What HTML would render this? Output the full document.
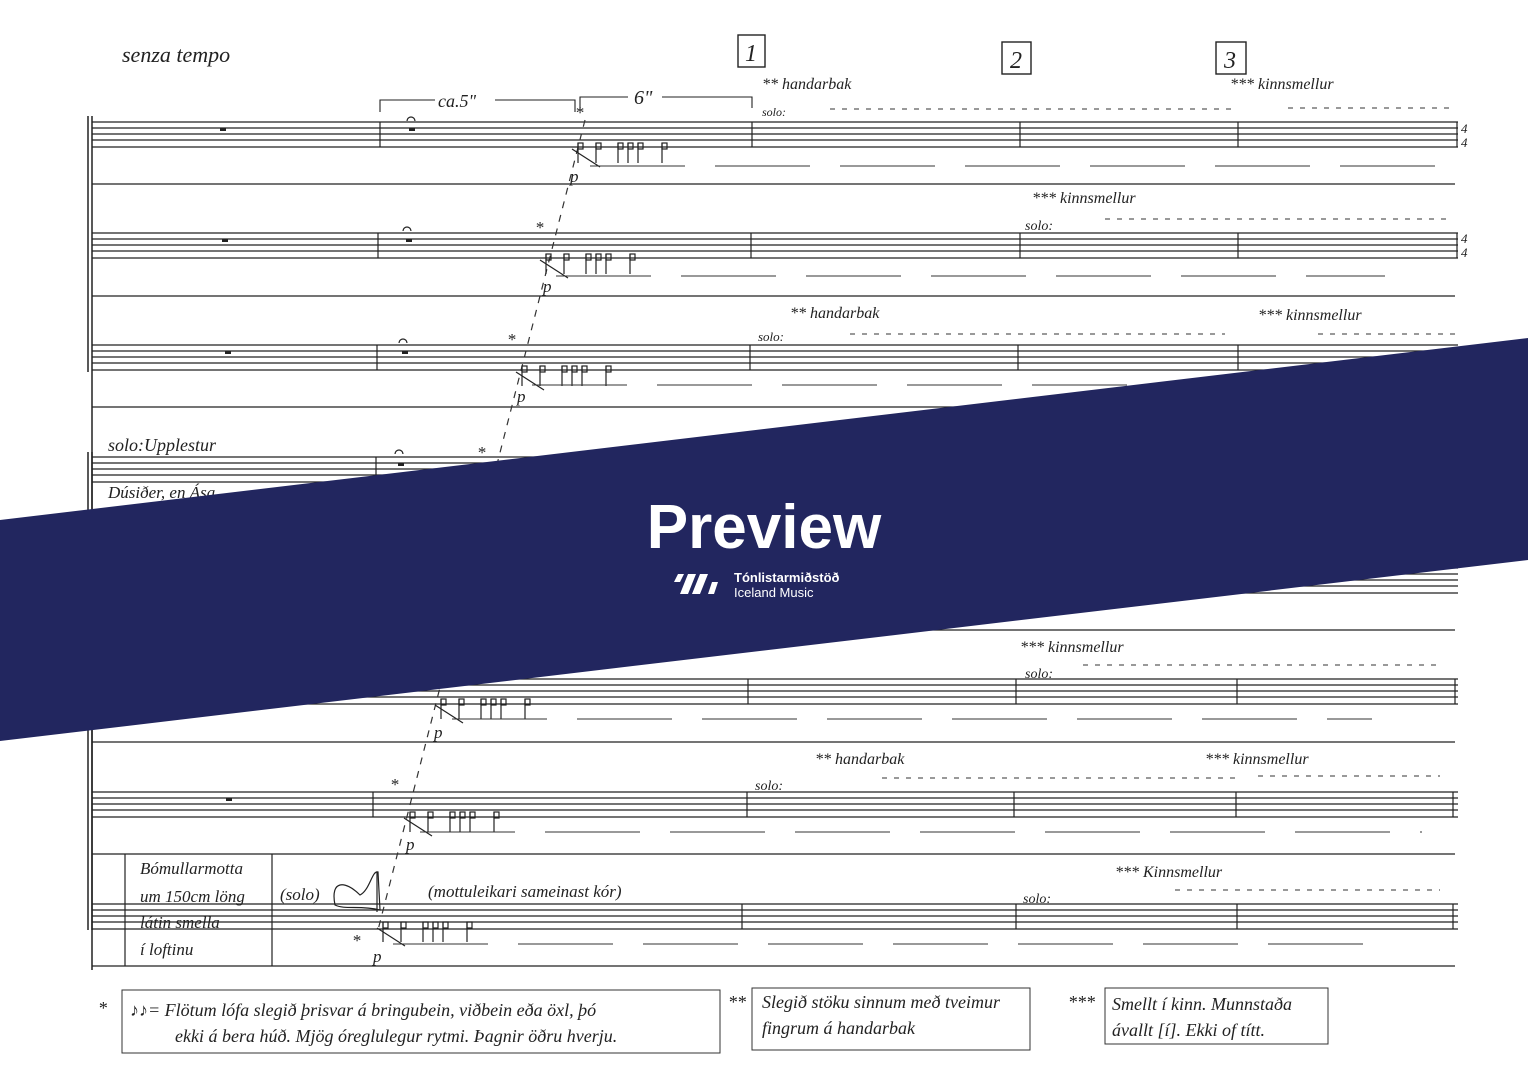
<!DOCTYPE html>
<html><head><meta charset="utf-8"><style>
html,body{margin:0;padding:0;background:#fff;}
svg{display:block}
text{font-family:"Liberation Serif",serif;font-style:italic;fill:#222}
</style></head><body>
<svg width="1528" height="1080" viewBox="0 0 1528 1080" xmlns="http://www.w3.org/2000/svg">
<defs>
<g id="st" stroke="#222" stroke-width="1.3">
<line x1="92" y1="0" x2="1458" y2="0"/><line x1="92" y1="6" x2="1458" y2="6"/><line x1="92" y1="12" x2="1458" y2="12"/><line x1="92" y1="18" x2="1458" y2="18"/><line x1="92" y1="25" x2="1458" y2="25"/>
</g>
<marker id="ah" markerWidth="8" markerHeight="8" refX="7" refY="4" orient="auto"><path d="M0,0 L7,4 L0,8" fill="none" stroke="#333" stroke-width="1"/></marker>
<g id="notes" stroke="#222" stroke-width="1.2" fill="none">
<rect x="0" y="0" width="5" height="6"/><line x1="0" y1="0" x2="0" y2="20"/>
<rect x="18" y="0" width="5" height="6"/><line x1="18" y1="0" x2="18" y2="20"/>
<rect x="40" y="0" width="5" height="6"/><line x1="40" y1="0" x2="40" y2="20"/>
<rect x="50" y="0" width="5" height="6"/><line x1="50" y1="0" x2="50" y2="20"/>
<rect x="60" y="0" width="5" height="6"/><line x1="60" y1="0" x2="60" y2="20"/>
<rect x="84" y="0" width="5" height="6"/><line x1="84" y1="0" x2="84" y2="20"/>
<line x1="-6" y1="6" x2="22" y2="24"/>
</g>
</defs>

<!-- brace lines -->
<g stroke="#222" stroke-width="1.5">
<line x1="88" y1="116" x2="88" y2="372"/><line x1="92" y1="116" x2="92" y2="372"/>
<line x1="88" y1="452" x2="88" y2="930"/><line x1="92" y1="452" x2="92" y2="930"/>
<line x1="92" y1="372" x2="92" y2="970"/>
</g>

<!-- staves -->
<use href="#st" y="122"/><use href="#st" y="233"/><use href="#st" y="345"/><use href="#st" y="457"/>
<use href="#st" y="568"/><use href="#st" y="679"/><use href="#st" y="792"/><use href="#st" y="904"/>

<!-- separators -->
<g stroke="#222" stroke-width="1.2">
<line x1="92" y1="184" x2="1455" y2="184"/><line x1="92" y1="296" x2="1455" y2="296"/>
<line x1="92" y1="407" x2="1455" y2="407"/><line x1="92" y1="519" x2="1455" y2="519"/>
<line x1="92" y1="630" x2="1455" y2="630"/><line x1="92" y1="742" x2="1455" y2="742"/>
<line x1="92" y1="854" x2="1455" y2="854"/><line x1="92" y1="966" x2="1455" y2="966"/>
</g>

<!-- barlines -->
<g stroke="#222" stroke-width="1.2">
<line x1="380" y1="122" x2="380" y2="147"/><line x1="752" y1="122" x2="752" y2="147"/><line x1="1020" y1="122" x2="1020" y2="147"/><line x1="1238" y1="122" x2="1238" y2="147"/><line x1="1457" y1="122" x2="1457" y2="147"/>
<line x1="378" y1="233" x2="378" y2="258"/><line x1="751" y1="233" x2="751" y2="258"/><line x1="1020" y1="233" x2="1020" y2="258"/><line x1="1238" y1="233" x2="1238" y2="258"/><line x1="1457" y1="233" x2="1457" y2="258"/>
<line x1="377" y1="345" x2="377" y2="370"/><line x1="750" y1="345" x2="750" y2="370"/><line x1="1018" y1="345" x2="1018" y2="370"/><line x1="1238" y1="345" x2="1238" y2="370"/>
<line x1="376" y1="457" x2="376" y2="482"/>
<line x1="748" y1="679" x2="748" y2="704"/><line x1="1016" y1="679" x2="1016" y2="704"/><line x1="1237" y1="679" x2="1237" y2="704"/><line x1="1455" y1="679" x2="1455" y2="704"/>
<line x1="373" y1="792" x2="373" y2="817"/><line x1="747" y1="792" x2="747" y2="817"/><line x1="1014" y1="792" x2="1014" y2="817"/><line x1="1236" y1="792" x2="1236" y2="817"/><line x1="1453" y1="792" x2="1453" y2="817"/>
<line x1="742" y1="904" x2="742" y2="929"/><line x1="1016" y1="904" x2="1016" y2="929"/><line x1="1237" y1="904" x2="1237" y2="929"/><line x1="1453" y1="904" x2="1453" y2="929"/>
</g>

<!-- whole rests / fermatas -->
<g fill="#222">
<rect x="220" y="128" width="6" height="3"/><rect x="409" y="128" width="6" height="3"/>
<rect x="222" y="239" width="6" height="3"/><rect x="406" y="239" width="6" height="3"/>
<rect x="225" y="351" width="6" height="3"/><rect x="402" y="351" width="6" height="3"/>
<rect x="398" y="463" width="6" height="3"/>
<rect x="226" y="798" width="6" height="3"/>
</g>
<g fill="none" stroke="#222" stroke-width="1.2">
<path d="M407,121 a4,4 0 0 1 8,0"/><path d="M403,231 a4,4 0 0 1 8,0"/><path d="M399,343 a4,4 0 0 1 8,0"/><path d="M395,454 a4,4 0 0 1 8,0"/>
</g>

<!-- dashed diagonal -->
<line x1="585" y1="120" x2="378" y2="930" stroke="#333" stroke-width="1.2" stroke-dasharray="7 7"/>

<!-- note clusters -->
<use href="#notes" x="578" y="143"/>
<use href="#notes" x="546" y="254"/>
<use href="#notes" x="522" y="366"/>
<use href="#notes" x="441" y="699"/>
<use href="#notes" x="410" y="812"/>
<use href="#notes" x="383" y="922"/>

<!-- dynamics p and stars -->
<g font-size="17">
<text x="570" y="182">p</text><text x="543" y="292">p</text><text x="517" y="402">p</text>
<text x="434" y="738">p</text><text x="406" y="850">p</text><text x="373" y="962">p</text>
<text x="575" y="118" font-style="normal">*</text><text x="535" y="233" font-style="normal">*</text><text x="507" y="345" font-style="normal">*</text><text x="477" y="458" font-style="normal">*</text>
<text x="390" y="790" font-style="normal">*</text><text x="352" y="946" font-style="normal">*</text>
</g>

<!-- arrow rows -->
<g stroke="#333" stroke-width="1.1" stroke-dasharray="95 30">
<line x1="590" y1="166" x2="1440" y2="166"/>
<line x1="556" y1="276" x2="1385" y2="276"/>
<line x1="532" y1="385" x2="1430" y2="385"/>
<line x1="452" y1="719" x2="1372" y2="719"/>
<line x1="420" y1="832" x2="1422" y2="832"/>
<line x1="393" y1="944" x2="1380" y2="944"/>
</g>

<!-- solo dashed lines -->
<g stroke="#333" stroke-width="1" stroke-dasharray="5 7">
<line x1="830" y1="109" x2="1235" y2="109"/><line x1="1288" y1="108" x2="1455" y2="108"/>
<line x1="1105" y1="219" x2="1450" y2="219"/>
<line x1="850" y1="334" x2="1225" y2="334"/><line x1="1318" y1="334" x2="1455" y2="334"/>
<line x1="1083" y1="665" x2="1440" y2="665"/>
<line x1="882" y1="778" x2="1235" y2="778"/><line x1="1258" y1="776" x2="1440" y2="776"/>
<line x1="1175" y1="890" x2="1440" y2="890"/>
</g>

<!-- top labels -->
<text x="122" y="62" font-size="22">senza tempo</text>
<path d="M380,112 V100 H435 M495,100 H575 V112 M580,110 V97 H628 M662,97 H752 V108" fill="none" stroke="#222" stroke-width="1.1"/>
<text x="438" y="107" font-size="18">ca.5"</text>
<text x="634" y="104" font-size="20">6"</text>
<g fill="none" stroke="#222" stroke-width="1.4">
<rect x="738" y="35" width="27" height="32"/><rect x="1002" y="42" width="29" height="32"/><rect x="1216" y="42" width="30" height="32"/>
</g>
<g font-size="24" font-style="normal"><text x="745" y="61">1</text><text x="1010" y="68">2</text><text x="1224" y="68">3</text></g>
<g font-size="16">
<text x="762" y="89">** handarbak</text>
<text x="762" y="116" font-size="12">solo:</text>
<text x="1230" y="89">*** kinnsmellur</text>
<text x="1032" y="203">*** kinnsmellur</text>
<text x="1025" y="230" font-size="14">solo:</text>
<text x="790" y="318">** handarbak</text>
<text x="758" y="341" font-size="13">solo:</text>
<text x="1258" y="320">*** kinnsmellur</text>
<text x="108" y="451" font-size="18">solo:Upplestur</text>
<text x="108" y="498" font-size="17">Dúsiðer, en Ása</text>
<text x="1020" y="652">*** kinnsmellur</text>
<text x="1025" y="678" font-size="14">solo:</text>
<text x="815" y="764">** handarbak</text>
<text x="755" y="790" font-size="14">solo:</text>
<text x="1205" y="764">*** kinnsmellur</text>
<text x="1115" y="877">*** Kinnsmellur</text>
<text x="1023" y="903" font-size="14">solo:</text>
</g>

<!-- last system box -->
<g stroke="#222" stroke-width="1.2" fill="none">
<line x1="125" y1="854" x2="125" y2="966"/><line x1="272" y1="854" x2="272" y2="966"/>
<path d="M335,905 C330,880 345,880 360,895 C370,890 372,870 378,872 L380,910 C360,905 345,910 335,905 Z"/>
<line x1="377" y1="872" x2="377" y2="912"/>
</g>
<g font-size="17">
<text x="140" y="874">Bómullarmotta</text>
<text x="140" y="902">um 150cm löng</text>
<text x="140" y="928">látin smella</text>
<text x="140" y="955">í loftinu</text>
<text x="280" y="900">(solo)</text>
<text x="428" y="897">(mottuleikari sameinast kór)</text>
</g>

<!-- legend -->
<g stroke="#333" stroke-width="1" fill="none">
<rect x="122" y="990" width="598" height="63"/>
<rect x="752" y="988" width="278" height="62"/>
<rect x="1105" y="988" width="223" height="56"/>
</g>
<g font-size="18">
<text x="98" y="1014" font-style="normal">*</text>
<text x="130" y="1016">♪♪= Flötum lófa slegið þrisvar á bringubein, viðbein eða öxl, þó</text>
<text x="175" y="1042">ekki á bera húð. Mjög óreglulegur rytmi. Þagnir öðru hverju.</text>
<text x="728" y="1008" font-style="normal">**</text>
<text x="762" y="1008">Slegið stöku sinnum með tveimur</text>
<text x="762" y="1034">fingrum  á  handarbak</text>
<text x="1068" y="1008" font-style="normal">***</text>
<text x="1112" y="1010">Smellt í kinn. Munnstaða</text>
<text x="1112" y="1036">ávallt [í]. Ekki of títt.</text>
</g>

<!-- 4/4 -->
<g font-size="13" font-style="normal"><text x="1461" y="133">4</text><text x="1461" y="147">4</text><text x="1461" y="243">4</text><text x="1461" y="257">4</text></g>

<!-- Preview band -->
<polygon points="0,520 1528,338 1528,560 0,741" fill="#22265f"/>
<text x="764" y="548" text-anchor="middle" font-family="Liberation Sans, sans-serif" font-style="normal" font-weight="bold" font-size="62" fill="#fff" style="fill:#fff;font-family:'Liberation Sans',sans-serif;font-style:normal">Preview</text>
<g fill="#fff">
<polygon points="678,574 684,574 680,582 674,582"/>
<polygon points="688,574 696,574 688,594 680,594"/>
<polygon points="700,574 708,574 700,594 692,594"/>
<polygon points="712,582 718,582 714,594 708,594"/>
</g>
<text x="734" y="582" font-size="13" style="fill:#fff;font-family:'Liberation Sans',sans-serif;font-style:normal;font-weight:bold">Tónlistarmiðstöð</text>
<text x="734" y="597" font-size="13" style="fill:#fff;font-family:'Liberation Sans',sans-serif;font-style:normal">Iceland Music</text>
</svg>
</body></html>
